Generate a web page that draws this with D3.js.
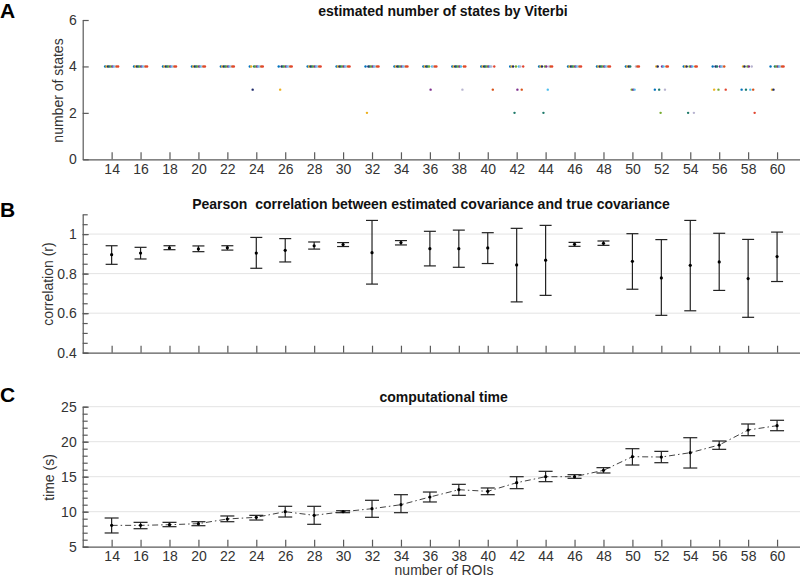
<!DOCTYPE html>
<html>
<head>
<meta charset="utf-8">
<script src="https://cdn.jsdelivr.net/npm/d3@7"></script>
<style>
body{margin:0;background:#fff;}
svg{display:block;font-family:"Liberation Sans",Arial,sans-serif;}
</style>
</head>
<body>
<svg id="chart" width="800" height="578"></svg>
<script>
// ---------- DATA ----------
const rois = [14,16,18,20,22,24,26,28,30,32,34,36,38,40,42,44,46,48,50,52,54,56,58,60];
const xTicks = rois;
// Panel A: estimated number of states (10 runs per ROI count)
const runOffsets = [-0.45,-0.35,-0.25,-0.15,-0.05,0.05,0.15,0.25,0.35,0.45];
const runColors = ["#0072BD","#EDB120","#1f2a6b","#1f7a6a","#77AC30","#7E2F8E","#4DBEEE","#b8b4d0","#D95319","#e2452f"];
const states = [
  [4,4,4,4,4,4,4,4,4,4], // 14
  [4,4,4,4,4,4,4,4,4,4], // 16
  [4,4,4,4,4,4,4,4,4,4], // 18
  [4,4,4,4,4,4,4,4,4,4], // 20
  [4,4,4,4,4,4,4,4,4,4], // 22
  [4,4,3,4,4,4,4,4,4,4], // 24
  [4,3,4,4,4,4,4,4,4,4], // 26
  [4,4,4,4,4,4,4,4,4,4], // 28
  [4,4,4,4,4,4,4,4,4,4], // 30
  [4,2,4,4,4,4,4,4,4,4], // 32
  [4,4,4,4,4,4,4,4,4,4], // 34
  [4,4,4,4,4,3,4,4,4,4], // 36
  [4,4,4,4,4,4,4,3,4,4], // 38
  [4,4,4,4,4,4,4,4,3,4], // 40
  [4,4,4,2,4,3,4,4,3,4], // 42
  [4,4,4,2,4,4,3,4,4,4], // 44
  [4,4,4,4,4,4,4,4,4,4], // 46
  [4,4,4,4,4,4,4,4,4,4], // 48
  [4,4,4,4,3,3,3,4,4,4], // 50
  [3,4,4,3,2,4,4,3,4,4], // 52
  [4,4,4,2,4,4,4,2,4,4], // 54
  [4,3,4,4,3,4,4,4,4,3], // 56
  [3,4,4,3,4,4,3,4,3,2], // 58
  [4,3,3,4,4,4,4,4,4,4]  // 60
];
const statesTicks = [0,2,4,6];
// Panel B: Pearson correlation (mean, lower, upper)
const corrMean = [0.896,0.904,0.930,0.925,0.931,0.904,0.918,0.941,0.947,0.906,0.957,0.926,0.926,0.930,0.844,0.868,0.948,0.953,0.862,0.778,0.842,0.859,0.775,0.886];
const corrLow  = [0.847,0.874,0.921,0.911,0.919,0.827,0.859,0.924,0.937,0.747,0.945,0.839,0.832,0.851,0.657,0.690,0.938,0.943,0.721,0.589,0.612,0.715,0.579,0.760];
const corrHigh = [0.941,0.933,0.941,0.940,0.941,0.983,0.977,0.960,0.957,1.069,0.967,1.014,1.020,1.007,1.029,1.044,0.958,0.965,1.002,0.972,1.069,1.004,0.973,1.010];
const corrTicks = [0.4,0.6,0.8,1.0];
const corrTickLabels = ["0.4","0.6","0.8","1"];
// Panel C: computational time (s)
const timeMean = [8.05,8.05,8.14,8.29,8.96,9.2,10.0,9.48,10.0,10.43,11.0,12.1,13.14,12.91,14.14,15.0,15.0,15.91,17.86,17.81,18.43,19.53,21.67,22.29];
const timeLow  = [6.96,7.57,7.86,8.0,8.57,8.81,9.24,8.2,9.86,9.2,9.86,11.39,12.34,12.43,13.29,14.29,14.77,15.53,16.67,17.0,16.24,18.91,20.86,21.57];
const timeHigh = [9.10,8.48,8.48,8.57,9.39,9.48,10.77,10.77,10.14,11.63,12.43,12.81,13.91,13.39,15.0,15.77,15.29,16.29,19.0,18.62,20.57,20.1,22.53,23.06];
const timeTicks = [5,10,15,20,25];

// ---------- LAYOUT ----------
const svg = d3.select("#chart");
const axisColor = "#5a5a5a", textColor = "#333", gridColor = "#e3e3e3";
const x = d3.scaleLinear().domain([12,62]).range([82.7,806]);
const yA = d3.scaleLinear().domain([0,6]).range([159.3,20]);
const yB = d3.scaleLinear().domain([0.4,1.1]).range([352.7,214.3]);
const yC = d3.scaleLinear().domain([5,25]).range([546.7,406.7]);

function grid(y, vals){
  svg.append("g").selectAll("line").data(vals).join("line")
    .attr("x1",x.range()[0]).attr("x2",800)
    .attr("y1",d=>y(d)).attr("y2",d=>y(d))
    .attr("stroke",gridColor).attr("stroke-width",1);
}
function styleAxis(g){
  g.selectAll("path").attr("stroke",axisColor).attr("stroke-width",1.2);
  g.selectAll("line").attr("stroke",axisColor).attr("stroke-width",1.2);
  g.selectAll("text").attr("fill",textColor).attr("font-size",14).attr("font-family",'"Liberation Sans",Arial,sans-serif');
}
function xAxis(y, labels){
  const ax = d3.axisBottom(x).tickValues(xTicks).tickSizeInner(-7).tickSizeOuter(0)
    .tickPadding(labels?4.5:0).tickFormat(labels?d3.format("d"):"");
  const g = svg.append("g").attr("transform",`translate(0,${y.range()[0]})`).call(ax);
  styleAxis(g);
}
function yAxis(y, major, fmt, minor){
  if(minor){
    const gm = svg.append("g").attr("transform",`translate(${x.range()[0]},0)`)
      .call(d3.axisLeft(y).tickValues(minor).tickSize(-5).tickFormat(""));
    gm.select("path").remove();
    styleAxis(gm);
  }
  const g = svg.append("g").attr("transform",`translate(${x.range()[0]},0)`)
    .call(d3.axisLeft(y).tickValues(major).tickSizeInner(-6).tickSizeOuter(0).tickPadding(6).tickFormat(fmt));
  styleAxis(g);
}
function title(txt, cx, by){
  svg.append("text").attr("x",cx).attr("y",by).attr("text-anchor","middle")
    .attr("font-weight","bold").attr("font-size",14).attr("fill","#111")
    .style("white-space","pre").text(txt);
}
function letter(txt, by){
  svg.append("text").attr("x",0).attr("y",by).attr("font-weight","bold")
    .attr("font-size",21).attr("fill","#000").text(txt);
}
function yLabel(txt, bx, cy){
  svg.append("text").attr("transform",`translate(${bx},${cy}) rotate(-90)`)
    .attr("text-anchor","middle").attr("font-size",14).attr("fill",textColor).text(txt);
}

// ---------- PANEL A ----------
letter("A",18);
title("estimated number of states by Viterbi",443,16);
yAxis(yA, statesTicks, d3.format("d"));
xAxis(yA, true);
yLabel("number of states",63,90.5);
const dotsA = [];
rois.forEach((r,i)=>states[i].forEach((s,j)=>dotsA.push({r,s,j})));
svg.append("g").selectAll("circle").data(dotsA).join("circle")
  .attr("cx",d=>x(d.r+runOffsets[d.j])).attr("cy",d=>yA(d.s))
  .attr("r",1.2).attr("fill",d=>runColors[d.j]);

// ---------- PANEL B ----------
letter("B",216.5);
title("Pearson  correlation between estimated covariance and true covariance",431,209);
grid(yB, corrTicks.slice(1));
yAxis(yB, corrTicks, (d,i)=>corrTickLabels[i], d3.range(0,15).map(k=>+(0.4+k*0.05).toFixed(2)));
xAxis(yB, false);
yLabel("correlation (r)",52.5,284);
const gB = svg.append("g");
rois.forEach((r,i)=>{
  const cx = x(r), w = 6;
  gB.append("line").attr("x1",cx).attr("x2",cx).attr("y1",yB(corrLow[i])).attr("y2",yB(corrHigh[i]));
  gB.append("line").attr("x1",cx-w).attr("x2",cx+w).attr("y1",yB(corrLow[i])).attr("y2",yB(corrLow[i]));
  gB.append("line").attr("x1",cx-w).attr("x2",cx+w).attr("y1",yB(corrHigh[i])).attr("y2",yB(corrHigh[i]));
});
gB.selectAll("line").attr("stroke","#222").attr("stroke-width",1.2);
gB.selectAll("circle").data(rois).join("circle")
  .attr("cx",d=>x(d)).attr("cy",(d,i)=>yB(corrMean[i])).attr("r",1.6).attr("fill","#000");

// ---------- PANEL C ----------
letter("C",402);
title("computational time",443.6,401.7);
grid(yC, timeTicks.slice(1));
yAxis(yC, timeTicks, d3.format("d"), d3.range(5,26,1));
xAxis(yC, true);
yLabel("time (s)",53.5,477.5);
svg.append("text").attr("x",444).attr("y",575).attr("text-anchor","middle")
  .attr("font-size",14).attr("fill",textColor).text("number of ROIs");
const line = d3.line().x((d,i)=>x(rois[i])).y(d=>yC(d));
svg.append("path").datum(timeMean).attr("d",line).attr("fill","none")
  .attr("stroke","#111").attr("stroke-width",0.8).attr("stroke-dasharray","6,3,1.5,3");
const gC = svg.append("g");
rois.forEach((r,i)=>{
  const cx = x(r), w = 7;
  gC.append("line").attr("x1",cx).attr("x2",cx).attr("y1",yC(timeLow[i])).attr("y2",yC(timeHigh[i]));
  gC.append("line").attr("x1",cx-w).attr("x2",cx+w).attr("y1",yC(timeLow[i])).attr("y2",yC(timeLow[i]));
  gC.append("line").attr("x1",cx-w).attr("x2",cx+w).attr("y1",yC(timeHigh[i])).attr("y2",yC(timeHigh[i]));
});
gC.selectAll("line").attr("stroke","#222").attr("stroke-width",1.2);
gC.selectAll("circle").data(rois).join("circle")
  .attr("cx",d=>x(d)).attr("cy",(d,i)=>yC(timeMean[i])).attr("r",1.6).attr("fill","#000");
</script>
</body>
</html>
